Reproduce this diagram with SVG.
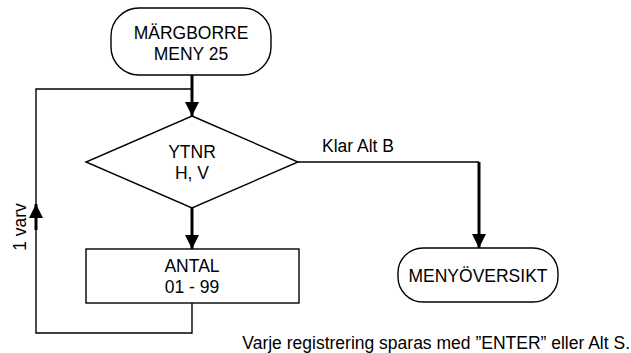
<svg xmlns="http://www.w3.org/2000/svg" width="631" height="353" viewBox="0 0 631 353">
<style>
.shape{fill:#fff;stroke:#000;stroke-width:1.4}
.thin{fill:none;stroke:#000;stroke-width:1.4}
.thick{fill:none;stroke:#000;stroke-width:3}
text{font-family:"Liberation Sans",Arial,sans-serif;font-size:17.5px;fill:#000}
.c{text-anchor:middle}
</style>
<defs>
<marker id="ah" markerWidth="14" markerHeight="14" refX="14" refY="7" orient="auto" markerUnits="userSpaceOnUse">
<path d="M0,0 L14,7 L0,14 Z" fill="#000"/>
</marker>
</defs>
<g id="connectors">
<path class="thin" d="M192,89 H36 V333 H192 V303"/>
<path class="thick" d="M36,230 V204" marker-end="url(#ah)"/>
<path class="thick" d="M192,75 V116" marker-end="url(#ah)"/>
<path class="thick" d="M192,208 V249" marker-end="url(#ah)"/>
<path class="thin" d="M298,162 H479"/>
<path class="thick" d="M479,162 V248" marker-end="url(#ah)"/>
<text x="322" y="152">Klar Alt B</text>
<text transform="translate(26,227) rotate(-90)" class="c">1 varv</text>
</g>
<g id="start">
<rect class="shape" x="111" y="8" width="160" height="67" rx="28" ry="28"/>
<text class="c" x="191" y="39">MÄRGBORRE</text>
<text class="c" x="191" y="60">MENY 25</text>
</g>
<g id="ytnr">
<polygon class="shape" points="192,116 298,162 192,208 86,162"/>
<text class="c" x="192" y="158">YTNR</text>
<text class="c" x="192" y="179">H, V</text>
</g>
<g id="antal">
<rect class="shape" x="86" y="249" width="213" height="54"/>
<text class="c" x="192" y="272">ANTAL</text>
<text class="c" x="192" y="293">01 - 99</text>
</g>
<g id="menyoversikt">
<rect class="shape" x="398" y="248" width="160" height="54" rx="25" ry="25"/>
<text class="c" x="478" y="282">MENYÖVERSIKT</text>
</g>
<text x="630" y="349" text-anchor="end">Varje registrering sparas med ”ENTER” eller Alt S.</text>
</svg>
